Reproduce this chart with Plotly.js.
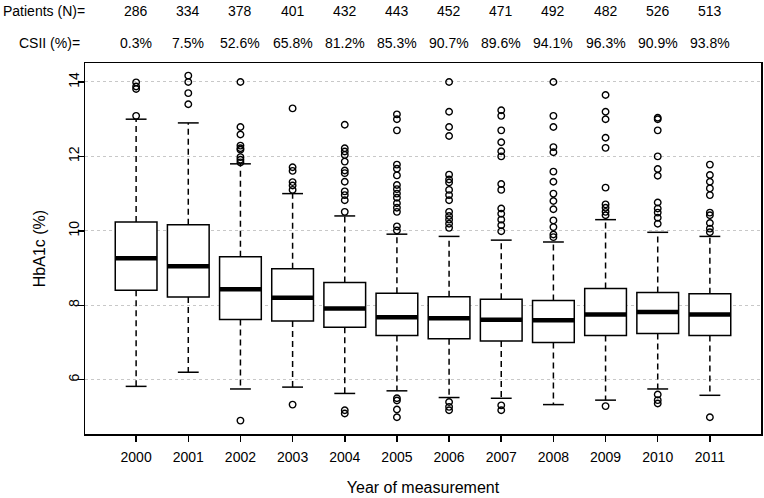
<!DOCTYPE html>
<html>
<head>
<meta charset="utf-8">
<script src="https://cdn.plot.ly/plotly-3.0.1.min.js"></script>
<style>html,body{margin:0;padding:0;background:#fff;}#chart{width:764px;height:498px;}</style>
</head>
<body>
<div id="chart"></div>
<script>
var years = [2000, 2001, 2002, 2003, 2004, 2005, 2006, 2007, 2008, 2009, 2010, 2011];
var patients = [286, 334, 378, 401, 432, 443, 452, 471, 492, 482, 526, 513];
var csii = ['0.3%', '7.5%', '52.6%', '65.8%', '81.2%', '85.3%', '90.7%', '89.6%', '94.1%', '96.3%', '90.9%', '93.8%'];

var q1 = [8.40, 8.22, 7.62, 7.58, 7.41, 7.19, 7.10, 7.04, 7.00, 7.19, 7.24, 7.19];
var medians = [9.26, 9.05, 8.43, 8.20, 7.91, 7.68, 7.65, 7.61, 7.60, 7.75, 7.82, 7.75];
var q3 = [10.24, 10.16, 9.30, 8.98, 8.61, 8.32, 8.23, 8.16, 8.13, 8.45, 8.34, 8.31];
var lowerWhisker = [5.82, 6.20, 5.75, 5.80, 5.63, 5.70, 5.52, 5.50, 5.33, 5.45, 5.75, 5.58];
var upperWhisker = [13.00, 12.90, 11.80, 11.00, 10.40, 9.91, 9.85, 9.75, 9.70, 10.30, 9.96, 9.85];

var outliers = [
  [13.09, 13.81, 13.88, 13.99],
  [13.40, 13.70, 14.00, 14.17],
  [11.84, 11.91, 11.98, 12.18, 12.22, 12.29, 12.59, 12.79, 14.00, 4.90],
  [13.29, 11.71, 11.61, 11.31, 11.22, 11.10, 5.33],
  [12.85, 12.22, 12.13, 12.04, 11.86, 11.62, 11.55, 11.32, 11.06, 10.96, 10.82, 10.51, 5.18, 5.09],
  [13.13, 13.00, 12.70, 11.78, 11.67, 11.49, 11.23, 11.12, 11.00, 10.89, 10.74, 10.62, 10.51, 10.12, 10.01, 5.50, 5.44, 5.20, 4.99],
  [14.00, 13.20, 12.79, 12.55, 11.51, 11.38, 11.30, 11.10, 10.96, 10.82, 10.51, 10.40, 10.30, 10.19, 10.08, 5.40, 5.27, 5.18],
  [13.24, 13.09, 12.70, 12.38, 12.14, 12.00, 11.26, 11.10, 10.60, 10.46, 10.30, 10.15, 9.99, 5.31, 5.18],
  [14.00, 13.09, 12.79, 12.25, 12.11, 11.59, 11.32, 11.00, 10.80, 10.58, 10.28, 10.10, 9.90, 9.83],
  [13.65, 13.20, 13.00, 12.50, 12.23, 11.16, 10.71, 10.62, 10.51, 10.42, 5.29],
  [13.04, 13.00, 12.70, 12.00, 11.66, 11.48, 10.76, 10.60, 10.49, 10.35, 10.19, 5.60, 5.45, 5.36],
  [11.78, 11.50, 11.32, 11.14, 10.96, 10.49, 10.42, 10.21, 10.06, 9.96, 4.99]
];

var boxWidth = 0.8, capHalf = 0.2, medHalf = 0.4;
var FONT = 'Liberation Sans, Arial, sans-serif';

var wx = [], wy = [], cx = [], cy = [], mx = [], my = [], ox = [], oy = [];
years.forEach(function (yr, i) {
  wx.push(yr, yr, null, yr, yr, null);
  wy.push(q3[i], upperWhisker[i], null, q1[i], lowerWhisker[i], null);
  cx.push(yr - capHalf, yr + capHalf, null, yr - capHalf, yr + capHalf, null);
  cy.push(upperWhisker[i], upperWhisker[i], null, lowerWhisker[i], lowerWhisker[i], null);
  mx.push(yr - medHalf, yr + medHalf, null);
  my.push(medians[i], medians[i], null);
  outliers[i].forEach(function (v) { ox.push(yr); oy.push(v); });
});

var traces = [
  { type: 'scatter', mode: 'lines', x: wx, y: wy, line: { color: 'black', width: 1.5, dash: '6px,4px' }, hoverinfo: 'skip', showlegend: false },
  { type: 'scatter', mode: 'lines', x: cx, y: cy, line: { color: 'black', width: 1.5 }, hoverinfo: 'skip', showlegend: false },
  { type: 'box', x: years, q1: q1, median: medians, q3: q3, lowerfence: q1, upperfence: q3,
    width: boxWidth, whiskerwidth: 0, boxpoints: false, fillcolor: 'white',
    line: { color: 'black', width: 1.5 }, hoverinfo: 'skip', showlegend: false },
  { type: 'scatter', mode: 'lines', x: mx, y: my, line: { color: 'black', width: 4.5 }, hoverinfo: 'skip', showlegend: false },
  { type: 'scatter', mode: 'markers', x: ox, y: oy, marker: { symbol: 'circle-open', size: 6.5, color: 'black', line: { color: 'black', width: 1.4 } }, hoverinfo: 'skip', showlegend: false }
];

var annotations = [
  { text: 'Patients (N)=', xref: 'paper', yref: 'paper', x: -84 / 675.4, y: 1.139, xanchor: 'left', yanchor: 'middle', showarrow: false, font: { family: FONT, size: 14, color: 'black' } },
  { text: 'CSII (%)=', xref: 'paper', yref: 'paper', x: -0.005, y: 1.054, xanchor: 'right', yanchor: 'middle', showarrow: false, font: { family: FONT, size: 14, color: 'black' } }
];
years.forEach(function (yr, i) {
  annotations.push({ text: String(patients[i]), xref: 'x', yref: 'paper', x: yr, y: 1.139, xanchor: 'center', yanchor: 'middle', showarrow: false, font: { family: FONT, size: 14, color: 'black' } });
  annotations.push({ text: csii[i], xref: 'x', yref: 'paper', x: yr, y: 1.054, xanchor: 'center', yanchor: 'middle', showarrow: false, font: { family: FONT, size: 14, color: 'black' } });
});

var layout = {
  width: 764, height: 498,
  margin: { l: 85, r: 3, t: 63, b: 64, pad: 0 },
  paper_bgcolor: 'white', plot_bgcolor: 'white',
  font: { family: FONT, size: 14, color: 'black' },
  showlegend: false,
  xaxis: {
    range: [1999.02, 2011.98], tickmode: 'array', tickvals: years, ticktext: years.map(String),
    ticks: 'outside', ticklen: 6, tickwidth: 1.5, tickcolor: 'black', ticklabelstandoff: 4,
    showline: true, linecolor: 'black', linewidth: 1.5, mirror: true,
    showgrid: false, zeroline: false,
    tickfont: { family: FONT, size: 14, color: 'black' },
    title: { text: 'Year of measurement', font: { family: FONT, size: 16, color: 'black' }, standoff: 17 }
  },
  yaxis: {
    range: [4.54, 14.51], tickmode: 'array', tickvals: [6, 8, 10, 12, 14],
    ticks: 'outside', ticklen: 6, tickwidth: 1.5, tickcolor: 'black', tickangle: -90, ticklabelstandoff: -7,
    showline: true, linecolor: 'black', linewidth: 1.5, mirror: true,
    showgrid: true, gridcolor: '#c8c8c8', gridwidth: 1, griddash: 'dot', zeroline: false,
    tickfont: { family: FONT, size: 14, color: 'black' },
    title: { text: 'HbA1c (%)', font: { family: FONT, size: 16, color: 'black' }, standoff: 16 }
  },
  annotations: annotations
};

Plotly.newPlot('chart', traces, layout, { staticPlot: true, displayModeBar: false });
</script>
</body>
</html>
